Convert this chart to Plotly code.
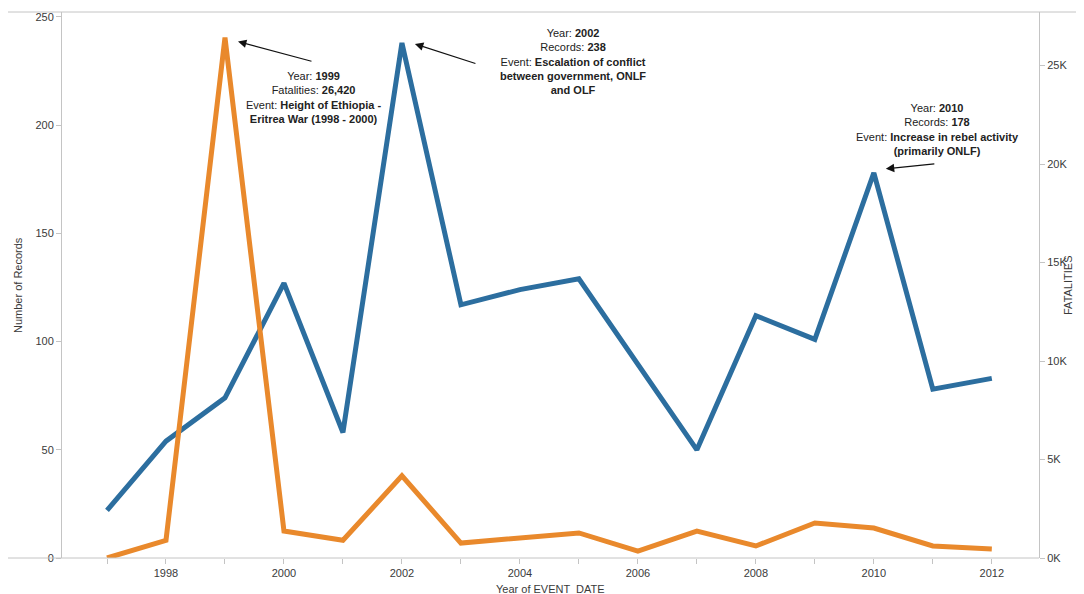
import plotly.graph_objects as go

years = list(range(1997, 2013))
records = [22, 54, 74, 127, 58, 238, 117, 124, 129, 89, 50, 112, 101, 178, 78, 83]
fatalities = [0, 900, 26420, 1370, 900, 4170, 760, 1020, 1270, 350, 1370, 610, 1780, 1520, 610, 460]

left_ticks = [0, 50, 100, 150, 200, 250]
right_ticks = [0, 5000, 10000, 15000, 20000, 25000]
right_labels = ["0K", "5K", "10K", "15K", "20K", "25K"]
x_labels = [str(y) if y % 2 == 0 else "" for y in years]

BLUE = "#2c6e9f"
ORANGE = "#e9892c"
AX = "#c4c4c4"
TXT = "#3a3a3a"
FONT = "Liberation Sans, Arial, sans-serif"

fig = go.Figure()
fig.add_trace(go.Scatter(x=years, y=fatalities, mode="lines", yaxis="y2",
                         line=dict(color=ORANGE, width=5), name="FATALITIES",
                         showlegend=False))
fig.add_trace(go.Scatter(x=years, y=records, mode="lines", yaxis="y",
                         line=dict(color=BLUE, width=5), name="Number of Records",
                         showlegend=False))

fig.update_layout(
    width=1076, height=586,
    margin=dict(l=54, r=45, t=4, b=36),
    paper_bgcolor="white", plot_bgcolor="white",
    font=dict(family=FONT, size=11, color=TXT),
    xaxis=dict(range=[1996.237, 2012.8], tickvals=years, ticktext=x_labels,
               ticks="outside", ticklen=5, tickcolor=AX, showgrid=False,
               zeroline=False, showline=False, tickfont=dict(size=11, color=TXT)),
    yaxis=dict(range=[0, 252.3], tickvals=left_ticks, ticks="outside", ticklen=5,
               tickcolor=AX, showgrid=False, zeroline=False, showline=True,
               linecolor=AX, linewidth=1, tickfont=dict(size=11, color=TXT)),
    yaxis2=dict(range=[0, 27720], overlaying="y", side="right",
                tickvals=right_ticks, ticktext=right_labels, ticks="outside",
                ticklen=5, tickcolor=AX, showgrid=False, zeroline=False,
                showline=True, linecolor=AX, linewidth=1,
                tickfont=dict(size=11, color=TXT)),
)

# pane borders (top and bottom)
fig.add_shape(type="line", xref="paper", yref="paper", x0=-54/977, x1=1.047,
              y0=1, y1=1, line=dict(color=AX, width=1))
fig.add_shape(type="line", xref="paper", yref="paper", x0=-54/977, x1=1.0,
              y0=0, y1=0, line=dict(color=AX, width=1))

# axis titles
fig.add_annotation(text="Year of EVENT  DATE", xref="paper", yref="paper",
                   x=0.5, y=0, yshift=-23, yanchor="top", showarrow=False,
                   font=dict(size=11, color=TXT))
fig.add_annotation(text="Number of Records", xref="paper", yref="paper",
                   x=0, y=0.5, xshift=-44, xanchor="center", textangle=-90,
                   showarrow=False, font=dict(size=11, color=TXT))
fig.add_annotation(text="FATALITIES", xref="paper", yref="paper",
                   x=1, y=0.5, xshift=29, xanchor="center", textangle=-90,
                   showarrow=False, font=dict(size=11, color=TXT))

# event annotations
notes = [
    dict(x=1999, y=26420, yref="y2", hx=13, hy=-4, ax=75, ay=20,
         text="Year: <b>1999</b><br>Fatalities: <b>26,420</b><br>Event: <b>Height of Ethiopia -</b><br><b>Eritrea War (1998 - 2000)</b>",
         tx=89, ty=-30),
    dict(x=2002, y=238, yref="y", hx=13, hy=-1, ax=62, ay=20,
         text="Year: <b>2002</b><br>Records: <b>238</b><br>Event: <b>Escalation of conflict</b><br><b>between government, ONLF</b><br><b>and OLF</b>",
         tx=171, ty=18),
    dict(x=2010, y=178, yref="y", hx=12, hy=4, ax=50, ay=-5,
         text="Year: <b>2010</b><br>Records: <b>178</b><br>Event: <b>Increase in rebel activity</b><br><b>(primarily ONLF)</b>",
         tx=64, ty=73),
]
for n in notes:
    fig.add_annotation(x=n["x"], y=n["y"], xref="x", yref=n["yref"], text="",
                       showarrow=True, arrowhead=2, arrowsize=1.4, arrowwidth=1.2,
                       arrowcolor="#111", ax=n["ax"], ay=n["ay"],
                       xshift=n["hx"], yshift=n["hy"])
    fig.add_annotation(x=n["x"], y=n["y"], xref="x", yref=n["yref"], text=n["text"],
                       showarrow=False, xshift=n["tx"], yshift=n["ty"], yanchor="top",
                       align="center", font=dict(size=11, color="#222"))

fig.write_html("out.html")
